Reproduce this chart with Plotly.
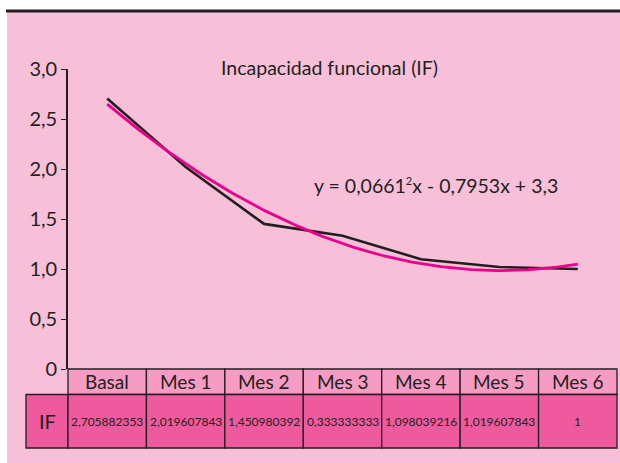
import numpy as np
import plotly.graph_objects as go

# ---- data ----
categories = ["Basal", "Mes 1", "Mes 2", "Mes 3", "Mes 4", "Mes 5", "Mes 6"]
if_values = [2.705882353, 2.019607843, 1.450980392, 1.333333333, 1.098039216, 1.019607843, 1.0]
table_labels = ["2,705882353", "2,019607843", "1,450980392", "0,333333333",
                "1,098039216", "1,019607843", "1"]
row_label = "IF"
title_text = "Incapacidad funcional (IF)"
equation_text = "y = 0,0661<sup><span style='font-size:11px'>2</span></sup>x - 0,7953x + 3,3"
y_tickvals = [0, 0.5, 1.0, 1.5, 2.0, 2.5, 3.0]
y_ticktext = ["0", "0,5", "1,0", "1,5", "2,0", "2,5", "3,0"]

# ---- geometry helpers (pixel -> paper) ----
W, H = 620, 463
L, R, T, B = 68, 3, 69, 94
PW, PH = W - L - R, H - T - B


def px_x(p):
    return (p - L) / PW


def px_y(p):
    return (H - B - p) / PH


BG = "#f8bfd8"
HEAD = "#f59bc4"
CELL = "#ef5a9e"
DARK = "#231f20"
TREND = "#ec008c"
FONT = "Lato, Open Sans, sans-serif"

n = len(categories)
xi = np.arange(n)

# quadratic trendline fitted to the series
coef = np.polyfit(xi + 1, if_values, 2)
xs = np.linspace(0, n - 1, 200)
ys = np.polyval(coef, xs + 1)

fig = go.Figure()
fig.add_trace(go.Scatter(x=xi, y=if_values, mode="lines",
                         line=dict(color=DARK, width=2.6), showlegend=False))
fig.add_trace(go.Scatter(x=xs, y=ys, mode="lines",
                         line=dict(color=TREND, width=2.8), showlegend=False))

shapes = []
# pink panel and top rule
shapes.append(dict(type="rect", xref="paper", yref="paper", layer="below",
                   x0=px_x(7), x1=px_x(621), y0=px_y(464), y1=px_y(12),
                   fillcolor=BG, line=dict(width=0)))
shapes.append(dict(type="line", xref="paper", yref="paper",
                   x0=px_x(6), x1=px_x(621), y0=px_y(11), y1=px_y(11),
                   line=dict(color=DARK, width=3)))

head_top, head_bot, row_bot = px_y(369), px_y(394.5), px_y(448)
label_left = px_x(26)
# label cell
shapes.append(dict(type="rect", xref="paper", yref="paper",
                   x0=label_left, x1=0, y0=row_bot, y1=head_bot,
                   fillcolor=CELL, line=dict(color=DARK, width=1.3)))
annotations = []
annotations.append(dict(xref="paper", yref="paper", x=label_left / 2, y=(head_bot + row_bot) / 2,
                        xanchor="center", yanchor="middle",
                        text=row_label, showarrow=False,
                        font=dict(family=FONT, size=20, color=DARK)))
for i, cat in enumerate(categories):
    x0, x1 = i / n, (i + 1) / n
    shapes.append(dict(type="rect", xref="paper", yref="paper",
                       x0=x0, x1=x1, y0=head_bot, y1=head_top,
                       fillcolor=HEAD, line=dict(color=DARK, width=1.3)))
    shapes.append(dict(type="rect", xref="paper", yref="paper",
                       x0=x0, x1=x1, y0=row_bot, y1=head_bot,
                       fillcolor=CELL, line=dict(color=DARK, width=1.3)))
    annotations.append(dict(xref="x", yref="paper", x=i, y=(head_top + head_bot) / 2,
                            xanchor="center", yanchor="middle",
                            text=cat, showarrow=False,
                            font=dict(family=FONT, size=19, color=DARK)))
    annotations.append(dict(xref="x", yref="paper", x=i, y=(head_bot + row_bot) / 2,
                            xanchor="center", yanchor="middle",
                            text=table_labels[i], showarrow=False,
                            font=dict(family=FONT, size=12, color=DARK)))

annotations.append(dict(xref="paper", yref="paper", x=px_x(329), y=px_y(67),
                        xanchor="center", yanchor="middle",
                        text=title_text, showarrow=False,
                        font=dict(family=FONT, size=19.5, color=DARK)))
annotations.append(dict(xref="paper", yref="paper", x=px_x(436), y=px_y(185),
                        xanchor="center", yanchor="middle",
                        text=equation_text, showarrow=False,
                        font=dict(family=FONT, size=19.5, color=DARK)))

fig.update_layout(
    width=W, height=H,
    margin=dict(l=L, r=R, t=T, b=B, pad=0),
    paper_bgcolor="white", plot_bgcolor="rgba(0,0,0,0)",
    shapes=shapes, annotations=annotations,
    xaxis=dict(range=[-0.5, n - 0.5], showgrid=False, zeroline=False,
               showticklabels=False, ticks="", showline=False, fixedrange=True),
    yaxis=dict(range=[0, 3], showgrid=False, zeroline=False,
               tickvals=y_tickvals, ticktext=y_ticktext,
               ticks="outside", ticklen=5, tickwidth=1.3, tickcolor=DARK,
               showline=True, linecolor=DARK, linewidth=1.6,
               tickfont=dict(family=FONT, size=20, color=DARK)),
    showlegend=False,
)

fig.write_html("out.html", config={"displayModeBar": False},
               post_script="document.body.style.margin='0px';")
